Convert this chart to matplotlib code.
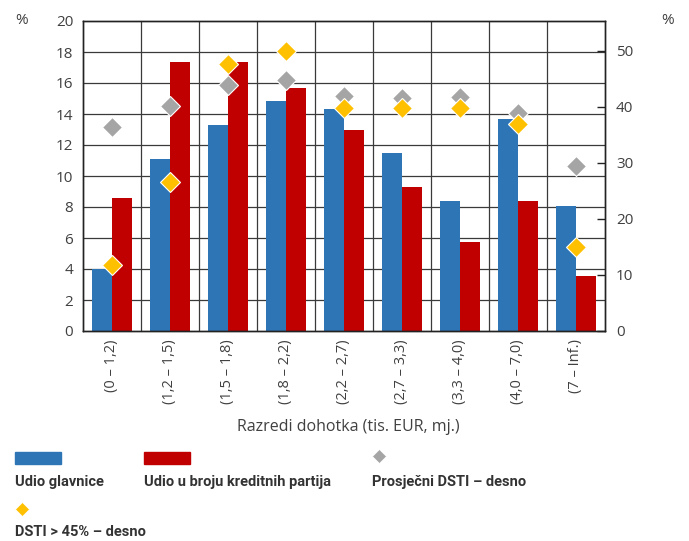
import matplotlib
matplotlib.use("Agg")
import matplotlib.pyplot as plt
from matplotlib import font_manager as fm
from matplotlib.patches import Rectangle
from matplotlib.lines import Line2D
import numpy as np

categories = ["(0 – 1,2)", "(1,2 – 1,5)", "(1,5 – 1,8)", "(1,8 – 2,2)", "(2,2 – 2,7)",
              "(2,7 – 3,3)", "(3,3 – 4,0)", "(4,0 – 7,0)", "(7 – Inf.)"]
udio_glavnice = [4.0, 11.1, 13.3, 14.85, 14.3, 11.5, 8.4, 13.7, 8.05]
udio_partija = [8.6, 17.35, 17.35, 15.7, 13.0, 9.3, 5.75, 8.4, 3.55]
prosjecni_dsti = [36.4, 40.1, 43.9, 44.8, 42.0, 41.6, 41.7, 38.8, 29.5]
dsti_45 = [11.7, 26.6, 47.7, 49.9, 39.7, 39.7, 39.7, 36.9, 15.0]
left_ticks = list(range(0, 21, 2))
right_ticks = list(range(0, 51, 10))

legend_labels = ["Udio glavnice", "Udio u broju kreditnih partija",
                 "Prosječni DSTI – desno", "DSTI > 45% – desno"]
xlabel = "Razredi dohotka (tis. EUR, mj.)"

BLUE = "#2E75B6"
RED = "#C00000"
GRAY = "#A5A5A5"
YELLOW = "#FFC000"
TXT = "#404040"

installed = {f.name for f in fm.fontManager.ttflist}
base_font = "Open Sans" if "Open Sans" in installed else "DejaVu Sans"
leg_font = "Liberation Sans Narrow" if "Liberation Sans Narrow" in installed else "Roboto"
plt.rcParams["font.family"] = [base_font, "DejaVu Sans"]

W, H = 689, 541
fig = plt.figure(figsize=(W / 100, H / 100), dpi=100)
L, R, T, B = 83, 605, 21, 331
ax = fig.add_axes([L / W, 1 - B / H, (R - L) / W, (B - T) / H])
ax2 = ax.twinx()

n = len(categories)
x = np.arange(n)
bw = 0.35
ax.bar(x - bw / 2, udio_glavnice, bw, color=BLUE, zorder=2)
ax.bar(x + bw / 2, udio_partija, bw, color=RED, zorder=2)

ax.set_xlim(-0.5, n - 0.5)
ax.set_ylim(0, 20)
ax.set_yticks(left_ticks)
ax.set_axisbelow(True)
for v in left_ticks[1:-1]:
    ax.axhline(v, color="#3a3a3a", lw=0.9, zorder=0)
for b in np.arange(0.5, n - 0.5, 1.0):
    ax.axvline(b, color="#3a3a3a", lw=0.9, zorder=0)

ax.set_xticks(x)
ax.set_xticklabels(categories, rotation=90, fontsize=10.5, color=TXT)
ax.tick_params(axis="x", length=0, pad=6)
ax.tick_params(axis="y", length=0, pad=7, labelsize=11, labelcolor=TXT)
for s in ax.spines.values():
    s.set_color("#222222")
    s.set_linewidth(1.0)
for s in ax2.spines.values():
    s.set_color("#222222")
    s.set_linewidth(1.0)

ax2.set_ylim(0, 55.3)
ax2.set_yticks(right_ticks)
ax2.tick_params(axis="y", direction="in", length=6, width=1, color="#222222",
                pad=8, labelsize=11, labelcolor=TXT)
ax2.plot(x, prosjecni_dsti, linestyle="none", marker="D", ms=10.5,
         mfc=GRAY, mec="white", mew=0.8, zorder=3)
ax2.plot(x, dsti_45, linestyle="none", marker="D", ms=10.5,
         mfc=YELLOW, mec="white", mew=0.8, zorder=4)

fig.text(22 / W, 1 - 21 / H, "%", ha="center", va="center", fontsize=11, color=TXT)
fig.text(668 / W, 1 - 21 / H, "%", ha="center", va="center", fontsize=11, color=TXT)
fig.text(348 / W, 1 - 427 / H, xlabel, ha="center", va="center", fontsize=11.5, color=TXT)

# custom legend
lf = dict(family=[leg_font, "DejaVu Sans"], weight="bold", fontsize=10.5, color="#333333",
          ha="left", va="center")
fig.patches.append(Rectangle((15 / W, 1 - 464 / H), 46 / W, 12 / H,
                             transform=fig.transFigure, color=BLUE))
fig.patches.append(Rectangle((144 / W, 1 - 464 / H), 46 / W, 12 / H,
                             transform=fig.transFigure, color=RED))
fig.lines.append(Line2D([379 / W], [1 - 456 / H], transform=fig.transFigure,
                        marker="D", ms=7, mfc=GRAY, mec="white", mew=0.5, ls="none"))
fig.lines.append(Line2D([22 / W], [1 - 509 / H], transform=fig.transFigure,
                        marker="D", ms=7, mfc=YELLOW, mec="white", mew=0.5, ls="none"))
fig.text(15 / W, 1 - 482 / H, legend_labels[0], **lf)
fig.text(144 / W, 1 - 482 / H, legend_labels[1], **lf)
fig.text(372 / W, 1 - 482 / H, legend_labels[2], **lf)
fig.text(15 / W, 1 - 532 / H, legend_labels[3], **lf)

fig.savefig("out.png", dpi=100)
